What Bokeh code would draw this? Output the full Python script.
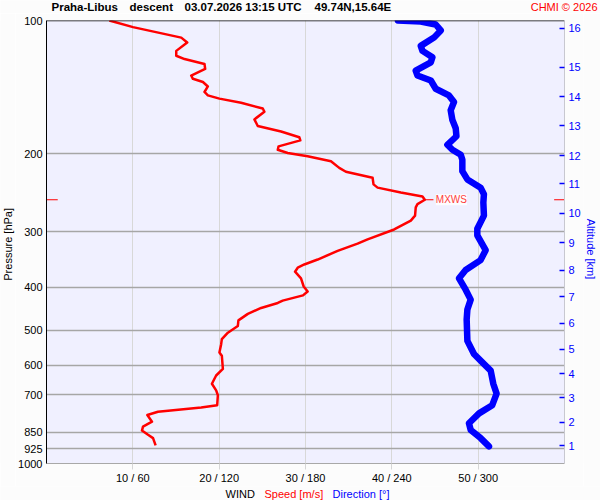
import math
from bokeh.plotting import figure
from bokeh.layouts import column, row
from bokeh.models import Range1d, FixedTicker, LogAxis, Label, Span
from bokeh.core.properties import value
from bokeh.embed import file_html
from bokeh.resources import INLINE

FONT = "Liberation Sans"
BG = "#fcfcfc"

# ---- wind speed profile (m/s) vs pressure (hPa)
speed_p = [100.0, 103.5, 109.3, 112.1, 117.1, 120.1, 122.2, 125.4, 128.6, 133.1,
           135.4, 137.7, 140.9, 145.0, 147.6, 150.1, 153.4, 158.0, 160.7, 167.2,
           173.0, 178.1, 183.4, 186.5, 192.4, 195.8, 199.1, 202.5, 207.8, 215.1,
           219.5, 226.4, 234.4, 238.4, 244.6, 249.6, 253.9, 259.7, 264.2, 275.7,
           282.9, 296.3, 311.9, 319.0, 331.2, 346.4, 355.4, 361.4, 369.0, 381.9,
           398.5, 408.9, 417.4, 428.9, 434.2, 445.5, 459.5, 475.3, 489.5, 506.6,
           524.1, 537.7, 561.5, 571.1, 611.5, 632.9, 660.5, 683.6, 701.4, 738.4,
           747.2, 764.3, 777.4, 804.6, 825.5, 842.7, 861.5, 876.3, 910.2]
speed = [7.28, 10.02, 15.61, 16.30, 15.03, 15.03, 15.99, 18.30, 18.38, 16.76,
         16.96, 18.12, 18.69, 18.30, 18.69, 20.03, 22.54, 25.05, 25.24, 24.08,
         24.47, 27.17, 29.28, 29.40, 26.88, 26.79, 27.94, 30.25, 32.95, 33.91,
         34.68, 37.77, 37.88, 38.35, 41.04, 43.55, 43.82, 42.97, 42.77, 42.69,
         42.20, 40.27, 37.19, 36.03, 33.72, 31.41, 29.86, 29.10, 28.79, 29.48,
         29.79, 30.25, 29.71, 27.36, 26.79, 24.86, 23.32, 22.23, 22.16, 21.01,
         20.31, 20.23, 20.03, 20.31, 20.43, 19.65, 19.16, 19.65, 19.85, 19.77,
         17.92, 12.91, 11.68, 12.22, 11.18, 11.06, 11.76, 12.34, 12.64]

# ---- wind direction profile (deg) vs pressure (hPa)
dir_p = [100.0, 100.5, 102.1, 105.3, 109.3, 114.1, 117.1, 121.1, 124.3, 129.8,
         133.1, 136.6, 142.6, 147.6, 152.7, 159.4, 167.8, 175.1, 182.5, 190.8,
         195.8, 200.9, 206.1, 218.8, 228.4, 238.4, 246.7, 257.5, 275.7, 295.3,
         305.5, 330.0, 347.4, 365.7, 381.9, 405.3, 426.7, 449.2, 472.9, 528.7,
         566.1, 591.1, 616.9, 660.5, 695.3, 738.4, 770.6, 811.2, 839.7, 876.3,
         914.9]
direction = [244.2, 260.1, 270.5, 274.0, 269.3, 260.1, 261.3, 268.2, 267.1, 256.6,
             257.8, 267.1, 270.5, 279.7, 283.2, 280.9, 282.1, 284.4, 284.9, 278.6,
             282.1, 287.9, 289.0, 289.0, 292.5, 301.7, 304.0, 303.6, 304.0, 299.4,
             299.4, 305.2, 301.7, 291.3, 286.7, 291.3, 294.8, 292.5, 292.0, 292.5,
             297.1, 302.9, 308.7, 310.5, 312.8, 309.8, 300.6, 293.6, 294.8, 301.7,
             307.5]

# ---- axes
p_ticks = [100, 200, 300, 400, 500, 600, 700, 850, 925, 1000]
p_tick_labels = ["100", "200", "300", "400", "500", "600", "700", "850", "925", "1000"]
speed_ticks = [10, 20, 30, 40, 50]
wind_tick_labels = ["10 / 60", "20 / 120", "30 / 180", "40 / 240", "50 / 300"]
alt_p = [911.6, 807.1, 709.8, 627.4, 552.9, 482.8, 420.2, 366.5, 317.4, 272.4,
         233.9, 201.9, 173.0, 148.8, 127.5, 104.2]
alt_labels = ["1", "2", "3", "4", "5", "6", "7", "8", "9", "10",
              "11", "12", "13", "14", "15", "16"]

title_parts = ["Praha-Libus", "descent", "03.07.2026 13:15 UTC", "49.74N,15.64E"]
legend_parts = ["WIND", "Speed [m/s]", "Direction [\u00b0]"]
legend_colors = ["black", "red", "blue"]

# ---- layout (pixels)
W, H = 600, 500
TOP_H, BOT_H = 13, 14
LEFT_W, RIGHT_W = 15, 17
MAIN_W, MAIN_H = W - LEFT_W - RIGHT_W, H - TOP_H - BOT_H
FRAME_W, FRAME_H = 520, 444
FB_LEFT, FB_TOP = 30, 7


def strip(w, h):
    f = figure(width=w, height=h, x_range=Range1d(0, w), y_range=Range1d(0, h),
               title=None, min_border=0, output_backend="svg", toolbar_location=None,
               x_axis_location=None, y_axis_location=None,
               background_fill_color=BG, border_fill_color=BG, outline_line_color=None)
    f.grid.visible = False
    return f


p = figure(width=MAIN_W, height=MAIN_H, x_range=Range1d(0, 60), y_range=Range1d(1000, 100),
           y_axis_type="log", output_backend="svg", toolbar_location=None,
           min_border_left=FB_LEFT, min_border_right=MAIN_W - FB_LEFT - FRAME_W,
           min_border_top=FB_TOP, min_border_bottom=MAIN_H - FB_TOP - FRAME_H,
           background_fill_color="#f0f0ff", border_fill_color=BG,
           outline_line_color=None)
p.extra_x_ranges = {"dir": Range1d(0, 360)}

# left pressure axis
ya = p.yaxis[0]
ya.ticker = FixedTicker(ticks=p_ticks)
ya.major_label_overrides = dict(zip(p_ticks, p_tick_labels))
ya.major_tick_in = 0
ya.major_tick_out = 0
ya.minor_tick_in = 0
ya.minor_tick_out = 0
ya.axis_line_color = "black"
ya.major_label_standoff = 4
ya.major_label_text_font = FONT
ya.major_label_text_font_size = "11px"
ya.major_label_text_color = "black"

# bottom wind axis
xa = p.xaxis[0]
xa.ticker = FixedTicker(ticks=speed_ticks)
xa.major_label_overrides = dict(zip(speed_ticks, wind_tick_labels))
xa.major_tick_in = 0
xa.major_tick_out = 6
xa.major_tick_line_color = "#d6d6d6"
xa.minor_tick_in = 0
xa.minor_tick_out = 0
xa.axis_line_color = "#a8a8a8"
xa.major_label_standoff = 2
xa.major_label_text_font = FONT
xa.major_label_text_font_size = "11px"
xa.major_label_text_color = "black"

# right altitude axis
ra = LogAxis(ticker=FixedTicker(ticks=alt_p),
             major_label_overrides=dict(zip(alt_p, alt_labels)))
ra.major_tick_in = 5
ra.major_tick_out = 0
ra.major_tick_line_color = "blue"
ra.major_tick_line_width = 1.5
ra.minor_tick_in = 0
ra.minor_tick_out = 0
ra.axis_line_color = "#c8c8d0"
ra.major_label_standoff = 4
ra.major_label_text_font = FONT
ra.major_label_text_font_size = "11px"
ra.major_label_text_color = "blue"
p.add_layout(ra, "right")

# grids
p.xgrid[0].ticker = FixedTicker(ticks=speed_ticks)
p.xgrid[0].grid_line_color = "#d8d8d8"
p.ygrid[0].ticker = FixedTicker(ticks=p_ticks[1:])
p.ygrid[0].grid_line_color = "#a6a6a6"
p.ygrid[0].grid_line_width = 1.3

p.add_layout(Span(location=100, dimension="width", line_color="black", line_width=1.5))

# profiles
p.line(direction, dir_p, x_range_name="dir", line_color="blue", line_width=6.5,
       line_join="round", line_cap="round")
p.line(speed, speed_p, line_color="red", line_width=2.5, line_join="round")

# maximum wind
imax = speed.index(max(speed))
smax, pmax = speed[imax], speed_p[imax]
p.segment(x0=[smax], y0=[pmax], x1=[smax + 1.0], y1=[pmax], line_color="red", line_width=1)
p.segment(x0=[0, 58.8], y0=[pmax, pmax], x1=[1.3, 60], y1=[pmax, pmax],
          line_color="red", line_width=1.2)
p.add_layout(Label(x=smax, y=pmax, x_offset=11, text="MXWS", text_baseline="middle",
                   text_color="#ff3c3c", text_font=FONT, text_font_size="10px",
                   background_fill_color="white", background_fill_alpha=0.85))

# ---- top strip: title and credit
top = strip(W, TOP_H)
top.text(x=[51, 129, 184, 314], y=[TOP_H / 2] * 4, text=title_parts,
         text_font=value(FONT), text_font_size="11.5px", text_font_style="bold",
         text_color="black", text_baseline="middle", text_align="left")
top.text(x=[597], y=[TOP_H / 2], text=["CHMI \u00a9 2026"], text_font=value(FONT),
         text_font_size="11px", text_color="red", text_baseline="middle",
         text_align="right")

# ---- side strips: axis titles
left = strip(LEFT_W, MAIN_H)
left.text(x=[7.5], y=[MAIN_H - 239], text=["Pressure [hPa]"], angle=math.pi / 2,
          text_font=value(FONT), text_font_size="11px", text_color="black",
          text_align="center", text_baseline="middle")
right = strip(RIGHT_W, MAIN_H)
right.text(x=[7.5], y=[MAIN_H - 244], text=["Altitude [km]"], angle=-math.pi / 2,
           text_font=value(FONT), text_font_size="11px", text_color="blue",
           text_align="center", text_baseline="middle")

# ---- bottom strip: legend
bot = strip(W, BOT_H)
bot.text(x=[225, 264, 332], y=[BOT_H / 2] * 3, text=legend_parts, text_color=legend_colors,
         text_font=value(FONT), text_font_size="11px", text_baseline="middle",
         text_align="left")

layout = column(top, row(left, p, right), bot)
open("out.html", "w").write(file_html(layout, INLINE))
